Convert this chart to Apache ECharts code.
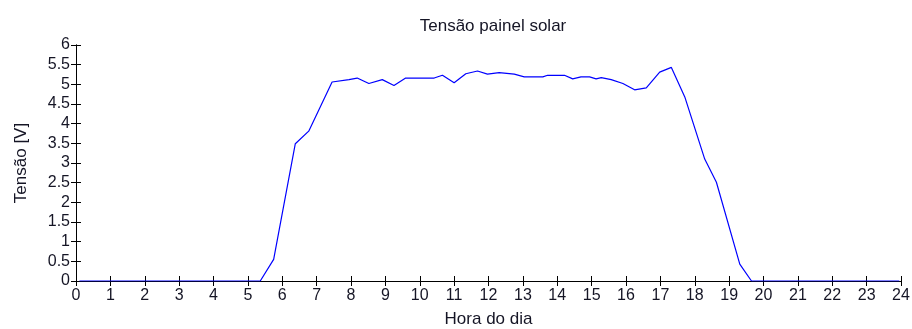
<!DOCTYPE html>
<html>
<head>
<meta charset="utf-8">
<script src="https://cdn.jsdelivr.net/npm/echarts@6/dist/echarts.min.js"></script>
<style>html,body{margin:0;padding:0;background:#fff}#c{width:912px;height:329px}</style>
</head>
<body>
<div id="c"></div>
<script>
var hours = [0.1, 5.36, 5.75, 6.38, 6.77, 7.45, 7.94, 8.18, 8.52, 8.91, 9.25, 9.59, 10.42, 10.66, 11.0, 11.34, 11.68, 11.97, 12.31, 12.75, 13.04, 13.58, 13.72, 14.21, 14.45, 14.69, 14.94, 15.13, 15.28, 15.57, 15.91, 16.25, 16.59, 16.98, 17.32, 17.71, 18.29, 18.63, 19.31, 19.65, 23.95];
var voltage = [0, 0, 0.55, 3.49, 3.81, 5.06, 5.12, 5.16, 5.02, 5.12, 4.97, 5.16, 5.16, 5.23, 5.04, 5.27, 5.34, 5.26, 5.30, 5.26, 5.19, 5.19, 5.23, 5.23, 5.14, 5.19, 5.19, 5.14, 5.17, 5.12, 5.02, 4.86, 4.91, 5.31, 5.43, 4.68, 3.10, 2.51, 0.43, 0, 0];
var xTicks = [0,1,2,3,4,5,6,7,8,9,10,11,12,13,14,15,16,17,18,19,20,21,22,23,24];
var yTicks = ['0','0.5','1','1.5','2','2.5','3','3.5','4','4.5','5','5.5','6'];
var titleText = 'Tensão painel solar';
var xName = 'Hora do dia';
var yName = 'Tensão [V]';

var pts = hours.map(function(h, i){ return [h, voltage[i]]; });
var font = 'Liberation Sans, Arial, sans-serif';
var txt = '#151525';
var chart = echarts.init(document.getElementById('c'), null, {renderer: 'canvas'});
chart.setOption({
  animation: false,
  backgroundColor: '#fff',
  title: {text: titleText, left: 488, top: 13, textAlign: 'center',
    textStyle: {fontFamily: font, fontSize: 17, fontWeight: 'normal', color: txt}},
  grid: {left: 76, right: 11, top: 45, bottom: 48, containLabel: false, outerBoundsMode: 'none'},
  xAxis: [{
    type: 'value', min: 0, max: 24, interval: 1,
    name: xName, nameLocation: 'middle', nameGap: 30,
    nameTextStyle: {fontFamily: font, fontSize: 17, color: txt},
    axisLine: {show: true, onZero: false, lineStyle: {color: '#000', width: 1}},
    axisTick: {show: true, inside: true, length: 5, lineStyle: {color: '#000'}},
    axisLabel: {fontFamily: font, fontSize: 16, color: txt, margin: 7,
      formatter: function(v){ return xTicks.indexOf(v) >= 0 ? String(v) : ''; }},
    splitLine: {show: false}
  }, {
    type: 'value', min: 0, max: 24, interval: 1, position: 'top',
    axisLine: {show: true, lineStyle: {color: '#000'}},
    axisTick: {show: true, inside: true, length: 5, lineStyle: {color: '#000'}},
    axisLabel: {show: false}, splitLine: {show: false}
  }],
  yAxis: [{
    type: 'value', min: 0, max: 6, interval: 0.5,
    name: yName, nameLocation: 'middle', nameGap: 46, nameRotate: 90,
    nameTextStyle: {fontFamily: font, fontSize: 17, color: txt},
    axisLine: {show: true, onZero: false, lineStyle: {color: '#000'}},
    axisTick: {show: true, inside: true, length: 5, lineStyle: {color: '#000'}},
    axisLabel: {fontFamily: font, fontSize: 16, color: txt, margin: 6,
      formatter: function(v){ var s = String(v); return yTicks.indexOf(s) >= 0 ? s : ''; }},
    splitLine: {show: false}
  }, {
    type: 'value', min: 0, max: 6, interval: 0.5, position: 'right',
    axisLine: {show: true, lineStyle: {color: '#000'}},
    axisTick: {show: true, inside: true, length: 5, lineStyle: {color: '#000'}},
    axisLabel: {show: false}, splitLine: {show: false}
  }],
  series: [{
    type: 'line', data: pts, xAxisIndex: 0, yAxisIndex: 0,
    showSymbol: false, symbol: 'none',
    lineStyle: {color: '#0000ff', width: 1.2},
    z: 5
  }]
});
</script>
</body>
</html>
